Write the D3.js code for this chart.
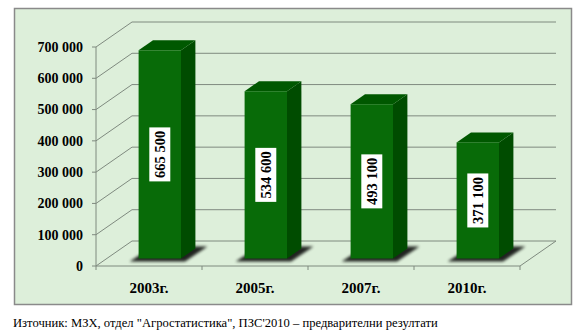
<!DOCTYPE html>
<html>
<head>
<meta charset="utf-8">
<script src="https://cdn.jsdelivr.net/npm/d3@7"></script>
<style>
  body { margin: 0; background: #fff; }
  svg { display: block; }
  svg text { font-family: 'Liberation Serif', 'Times New Roman', Times, serif; }
</style>
</head>
<body>
<svg id="chart" width="574" height="331"></svg>
<script>
// data
const years = ["2003г.", "2005г.", "2007г.", "2010г."];
const values = [665500, 534600, 493100, 371100];
const valueLabels = ["665 500", "534 600", "493 100", "371 100"];
const yTicks = [0, 100000, 200000, 300000, 400000, 500000, 600000, 700000];
const source = "Източник: МЗХ, отдел \"Агростатистика\", ПЗС'2010 – предварителни резултати";

const svg = d3.select("#chart");

// frame
svg.append("rect")
  .attr("x", 14.5).attr("y", 8.5)
  .attr("width", 557).attr("height", 296)
  .attr("fill", "#ddefda")
  .attr("stroke", "#8a8a8a")
  .attr("stroke-width", 1.5);

// 3d projection: depth DX, DY for the whole floor
const DX = 36, DY = 25;
const x = d3.scaleBand().domain(years).range([96, 520]).paddingInner(0.6).paddingOuter(0.3);
const y = d3.scaleLinear().domain([0, 700000]).range([266, 47]);
const fmt = v => d3.format(",")(v).replace(/,/g, " ");

const grid = svg.append("g").attr("stroke", "#7f8a7f").attr("stroke-width", 1).attr("fill", "none");

// left wall diagonals + back wall lines
yTicks.forEach(t => {
  const yy = y(t);
  grid.append("path").attr("d", `M96,${yy}L${96 + DX},${yy - DY}L${520 + DX},${yy - DY}`);
});
// front axis and floor
grid.append("path").attr("d", `M96,${y(700000)}L96,${y(0)}L520,${y(0)}L${520 + DX},${y(0) - DY}`);

// y ticks
yTicks.forEach(t => {
  grid.append("line").attr("x1", 92).attr("x2", 96).attr("y1", y(t)).attr("y2", y(t));
  svg.append("text")
    .attr("x", 83).attr("y", y(t)).attr("dy", "0.35em")
    .attr("text-anchor", "end")
    .attr("font-size", 14).attr("font-weight", "bold")
    .text(fmt(t));
});

// category ticks and labels
const step = x.step();
for (let i = 0; i <= years.length; i++) {
  const xx = 96 + i * step;
  grid.append("line").attr("x1", xx).attr("x2", xx).attr("y1", y(0)).attr("y2", y(0) + 4);
}
years.forEach((c, i) => {
  svg.append("text")
    .attr("x", 96 + (i + 0.5) * step).attr("y", 293)
    .attr("text-anchor", "middle")
    .attr("font-size", 15).attr("font-weight", "bold")
    .text(c);
});

// shadow filter
const defs = svg.append("defs");
defs.append("filter").attr("id", "blur").attr("x", "-50%").attr("y", "-50%").attr("width", "200%").attr("height", "200%")
  .append("feGaussianBlur").attr("stdDeviation", 1.6);

// bars
const z0 = 0.3, z1 = 0.7;
const bars = svg.append("g");
values.forEach((v, i) => {
  const c = years[i];
  const x0 = x(c) + z0 * DX, x1 = x0 + x.bandwidth();
  const yb = y(0) - z0 * DY, yt = y(v) - z0 * DY;
  const ddx = (z1 - z0) * DX, ddy = (z1 - z0) * DY;

  // shadow
  bars.append("path")
    .attr("d", `M${x0 - 9},${yb + 3}L${x1 + 4},${yb + 3}L${x1 + ddx + 12},${yb - ddy - 2}L${x0 + ddx},${yb - ddy - 2}Z`)
    .attr("fill", "#000").attr("opacity", 0.85).attr("filter", "url(#blur)");
  // side
  bars.append("path")
    .attr("d", `M${x1},${yb}L${x1 + ddx},${yb - ddy}L${x1 + ddx},${yt - ddy}L${x1},${yt}Z`)
    .attr("fill", "#004c00");
  // top
  bars.append("path")
    .attr("d", `M${x0},${yt}L${x1},${yt}L${x1 + ddx},${yt - ddy}L${x0 + ddx},${yt - ddy}Z`)
    .attr("fill", "#005800");
  // front
  bars.append("rect")
    .attr("x", x0).attr("y", yt)
    .attr("width", x1 - x0).attr("height", yb - yt)
    .attr("fill", "#086b08");

  // value label
  const cx = (x0 + x1) / 2, cy = (yt + yb) / 2;
  bars.append("rect")
    .attr("x", cx - 10.5).attr("y", cy - 27)
    .attr("width", 21).attr("height", 54)
    .attr("fill", "#fff");
  bars.append("text")
    .attr("transform", `translate(${cx},${cy}) rotate(-90)`)
    .attr("text-anchor", "middle").attr("dy", "0.35em")
    .attr("font-size", 14.5).attr("font-weight", "bold")
    .text(valueLabels[i]);
});

// source note
svg.append("text")
  .attr("x", 13).attr("y", 327)
  .attr("font-size", 12.6)
  .text(source);
</script>
</body>
</html>
